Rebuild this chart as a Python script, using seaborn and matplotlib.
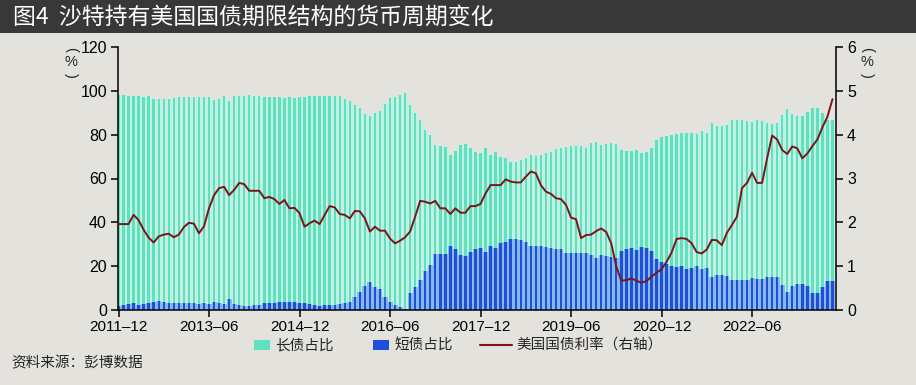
import numpy as np
import pandas as pd
import matplotlib
matplotlib.use("Agg")
import matplotlib.pyplot as plt
import seaborn as sns
from matplotlib.patches import Rectangle
from matplotlib.lines import Line2D

# ---------------- data ----------------
months = list(pd.period_range("2011-12", "2023-10", freq="M").strftime("%Y-%m"))

long_share = [
    98, 98, 97.8, 97.5, 97.5, 97.3, 97.5, 96.5, 96.3, 96.5, 96.5, 96.8,
    97, 97, 97, 97, 97.2, 97.2, 97, 96, 96.5, 97.5, 95.5, 97.5,
    97.8, 97.8, 98, 97.8, 97.5, 97.2, 97.2, 97.2, 97, 96.8, 97, 96.8,
    97, 97.2, 97.5, 97.5, 97.8, 97.8, 97.6, 97.8, 97.5, 96.5, 95.5, 93.5,
    92, 89.5, 88.5, 90, 91, 94, 96.7, 97.3, 98.3, 99, 93.5, 90,
    86.7, 82, 80, 75.3, 75, 74.5, 70.7, 72.7, 75.3, 75.7, 74, 72.2,
    71.6, 74, 70.7, 72.2, 70, 69.3, 67.7, 67.7, 68.4, 69.3, 70.7, 70.3,
    70.7, 71.8, 72.2, 73.3, 74, 74.5, 74.8, 74.8, 74.8, 74, 76, 76.5,
    75.3, 75.7, 76.3, 75.7, 73, 72.5, 72.5, 73, 71.5, 72.2, 73.8, 77.6,
    78.8, 79.4, 79.8, 80.3, 80.6, 80.9, 80.9, 80.2, 81.8, 80.9, 85.2, 84.1,
    84, 84.4, 86.7, 86.7, 86.7, 86.4, 85.9, 86.7, 86.4, 85.2, 84.9, 85.2,
    89, 91.6, 89.4, 88.5, 88.5, 90.5, 92, 92, 89.7, 86.7, 86.7,
]

short_share = [
    1.8, 2.1, 2.6, 3.0, 2.4, 2.6, 3.0, 3.8, 4.1, 3.8, 3.3, 3.3,
    3.0, 3.3, 3.0, 3.0, 2.6, 3.0, 2.6, 3.8, 3.3, 2.6, 5.0, 2.6,
    2.1, 1.9, 1.9, 2.1, 2.4, 3.0, 3.3, 3.3, 3.6, 3.6, 3.8, 3.6,
    3.3, 3.3, 2.6, 2.1, 1.9, 2.1, 2.1, 2.4, 2.6, 3.0, 3.8, 6.0,
    8.4, 11, 12.6, 10.6, 9.4, 6.1, 3.8, 2.3, 1.2, 0.5, 7.6, 10.3,
    13.7, 17.8, 20.5, 25.6, 25.6, 25.6, 29.2, 27.7, 25.1, 24.6, 26.6, 27.7,
    28.4, 26.6, 29.2, 28.2, 30.4, 31.2, 32.4, 32.4, 31.9, 31.2, 29.4, 29.4,
    29.4, 28.9, 28.2, 27.7, 27.8, 26.2, 26.2, 25.9, 25.9, 26.2, 25.1, 23.6,
    25.1, 24.8, 24.3, 23.6, 27.1, 27.8, 28.1, 27.4, 28.6, 28.1, 27.1, 23.1,
    22, 20.8, 20.1, 19.8, 20.2, 18.7, 19, 20.1, 18.6, 19, 15.2, 16,
    16, 15.5, 13.7, 13.7, 13.7, 13.7, 14.7, 14, 14.2, 15.2, 15.2, 15,
    11.4, 8.4, 11, 11.7, 11.7, 11, 7.9, 7.9, 10.6, 13.4, 13.4,
]

ust_yield = [
    1.96, 1.96, 1.96, 2.17, 2.05, 1.83, 1.65, 1.54, 1.68, 1.72, 1.74, 1.66,
    1.72, 1.89, 1.99, 1.97, 1.75, 1.91, 2.32, 2.62, 2.78, 2.81, 2.62, 2.74,
    2.90, 2.87, 2.72, 2.72, 2.72, 2.55, 2.58, 2.53, 2.42, 2.51, 2.32, 2.33,
    2.21, 1.90, 1.98, 2.04, 1.96, 2.17, 2.37, 2.34, 2.19, 2.17, 2.09, 2.26,
    2.25, 2.09, 1.79, 1.90, 1.81, 1.81, 1.63, 1.52, 1.58, 1.66, 1.79, 2.13,
    2.49, 2.47, 2.43, 2.49, 2.32, 2.32, 2.19, 2.32, 2.22, 2.22, 2.37, 2.37,
    2.42, 2.66, 2.85, 2.85, 2.85, 2.98, 2.93, 2.91, 2.91, 3.04, 3.16, 3.12,
    2.85, 2.70, 2.65, 2.55, 2.53, 2.40, 2.11, 2.07, 1.64, 1.71, 1.72, 1.80,
    1.86, 1.78, 1.52, 0.99, 0.67, 0.68, 0.72, 0.67, 0.62, 0.66, 0.76, 0.85,
    0.93, 1.10, 1.31, 1.62, 1.64, 1.62, 1.52, 1.32, 1.29, 1.38, 1.60, 1.59,
    1.48, 1.76, 1.94, 2.13, 2.78, 2.90, 3.13, 2.90, 2.90, 3.46, 3.98, 3.89,
    3.65, 3.56, 3.73, 3.69, 3.46, 3.57, 3.74, 3.89, 4.17, 4.41, 4.81,
]

tick_months = ["2011-12", "2013-06", "2014-12", "2016-06",
               "2017-12", "2019-06", "2020-12", "2022-06"]
tick_labels = ["2011–12", "2013–06", "2014–12", "2016–06",
               "2017–12", "2019–06", "2020–12", "2022–06"]

legend_labels = ["长债占比", "短债占比", "美国国债利率（右轴）"]
title_text = "图4  沙特持有美国国债期限结构的货币周期变化"
source_text = "资料来源：彭博数据"

# ---------------- style ----------------
sns.set_style("ticks")
plt.rcParams["font.family"] = ["Liberation Sans", "Noto Sans CJK SC", "DejaVu Sans"]
cjk = ["Noto Sans CJK SC", "DejaVu Sans"]

BG = "#e4e2dd"
LONG_LIGHT = "#c2f0e3"
LONG = "#5fe0bf"
SHORT_LIGHT = "#86b8ec"
SHORT = "#1f4fd8"
LINE = "#7a1518"

W, H = 916, 385
fig = plt.figure(figsize=(W / 100, H / 100), dpi=100, facecolor=BG)
ax = fig.add_axes([118 / W, 1 - 310 / H, (836 - 118) / W, (310 - 47) / H])
ax.set_facecolor(BG)

df = pd.DataFrame({
    "month": months,
    "pos": np.arange(len(months)),
    "long": long_share,
    "short": short_share,
    "yield": ust_yield,
})

common = dict(data=df, x="pos", native_scale=True, saturation=1,
              errorbar=None, linewidth=0, ax=ax)
sns.barplot(y="long", width=1.0, color=LONG_LIGHT, **common)
sns.barplot(y="long", width=0.48, color=LONG, **common)
sns.barplot(y="short", width=1.0, color=SHORT_LIGHT, **common)
sns.barplot(y="short", width=0.48, color=SHORT, **common)

ax.set_xlim(-0.1, 142.7)
ax.set_ylim(0, 120)
ax.set_yticks(range(0, 121, 20))
tick_pos = [months.index(m) for m in tick_months]
ax.set_xticks(tick_pos)
ax.set_xticklabels(tick_labels)
ax.set_xlabel("")
ax.set_ylabel("")

ax2 = ax.twinx()
sns.lineplot(data=df, x="pos", y="yield", color=LINE, linewidth=1.4, ax=ax2)
ax2.set_ylim(0, 6)
ax2.set_yticks(range(0, 7))
ax2.set_ylabel("")
ax2.set_xlim(-0.1, 142.7)

for a in (ax, ax2):
    a.spines["top"].set_visible(False)
    for s in ("left", "right", "bottom"):
        a.spines[s].set_color("black")
        a.spines[s].set_linewidth(1.1)
    a.tick_params(axis="both", direction="out", length=5, width=1.1,
                  labelsize=11.5, colors="black", pad=3)
ax.spines["right"].set_visible(False)
ax2.spines["left"].set_visible(False)
ax2.spines["bottom"].set_visible(False)
ax.tick_params(axis="x", labelsize=11, pad=2)

# unit labels "(%)" vertical
for xpix in (71, 867):
    fig.text(xpix / W, 1 - 49 / H, "(", rotation=-90, ha="center", va="center", fontsize=10.5)
    fig.text(xpix / W, 1 - 62 / H, "%", ha="center", va="center", fontsize=10.5)
    fig.text(xpix / W, 1 - 75 / H, ")", rotation=-90, ha="center", va="center", fontsize=10.5)

# title bar
fig.patches.append(Rectangle((0, 1 - 33 / H), 1, 33 / H, transform=fig.transFigure,
                             facecolor="#383838", edgecolor="none", zorder=0))
fig.text(13 / W, 1 - 17 / H, title_text, color="white", fontsize=16.5,
         va="center", ha="left", family=cjk)

# legend (manual)
ly = 1 - 345 / H
fig.patches.append(Rectangle((254 / W, ly - 5 / H), 16 / W, 10 / H,
                             transform=fig.transFigure, facecolor=LONG, edgecolor="none"))
fig.text(275 / W, ly, legend_labels[0], fontsize=10.5, va="center", ha="left",
         family=cjk, weight="medium")
fig.patches.append(Rectangle((373 / W, ly - 5 / H), 16 / W, 10 / H,
                             transform=fig.transFigure, facecolor=SHORT, edgecolor="none"))
fig.text(394 / W, ly, legend_labels[1], fontsize=10.5, va="center", ha="left",
         family=cjk, weight="medium")
fig.lines.append(Line2D([480 / W, 512 / W], [ly, ly], transform=fig.transFigure,
                        color=LINE, linewidth=1.5))
fig.text(516 / W, ly, legend_labels[2], fontsize=10.5, va="center", ha="left",
         family=cjk, weight="medium")

fig.text(11 / W, 1 - 363 / H, source_text, fontsize=10.5, va="center", ha="left", family=cjk)

fig.savefig("out.png", dpi=100, facecolor=BG)
